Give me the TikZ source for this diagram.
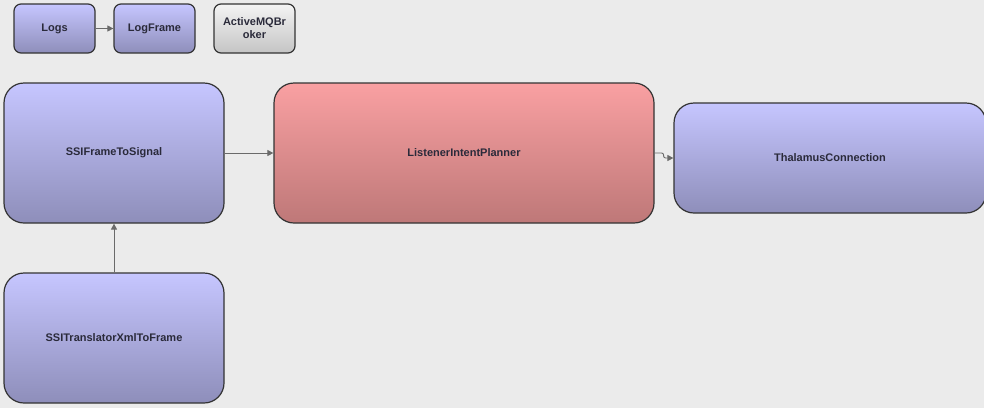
\documentclass[tikz,border=0pt]{standalone}
\usepackage{fontspec}
\setmainfont{Liberation Sans}
\usetikzlibrary{arrows.meta}
\definecolor{bg}{HTML}{EBEBEB}
\definecolor{bluetop}{HTML}{C6C6FF}
\definecolor{bluebot}{HTML}{8E8EBA}
\definecolor{redtop}{HTML}{F9A0A2}
\definecolor{redbot}{HTML}{BE7878}
\definecolor{greytop}{HTML}{F4F4F4}
\definecolor{greybot}{HTML}{C4C4C4}
\definecolor{edge}{HTML}{333333}
\definecolor{txt}{HTML}{2A2A3A}
\definecolor{conn}{HTML}{6A6A6A}
\tikzset{
  box/.style={draw=edge, line width=1.2pt, text=txt, font=\fontsize{11}{13}\selectfont\bfseries, align=center, inner sep=2pt},
  bluebox/.style={box, top color=bluetop, bottom color=bluebot},
  redbox/.style={box, top color=redtop, bottom color=redbot},
  greybox/.style={box, top color=greytop, bottom color=greybot},
  smallbox/.style={rounded corners=7pt, minimum width=81pt, minimum height=49pt, text width=74pt},
  bigbox/.style={rounded corners=20pt},
  conn/.style={draw=conn, line width=0.9pt, -{Triangle[length=6pt,width=6pt]}},
}
\begin{document}
\begin{tikzpicture}[x=1pt,y=-1pt]
\useasboundingbox[fill=bg] (0,0) rectangle (984,408);
\node[bluebox, smallbox] (logs) at (54.5,28.5) {Logs};
\node[bluebox, smallbox] (logframe) at (154.5,28.5) {LogFrame};
\node[greybox, smallbox] (amq) at (254.5,28.5) {ActiveMQBr\\oker};
\node[bluebox, bigbox, minimum width=220pt, minimum height=140pt] (sfs) at (114,153) {SSIFrameToSignal};
\node[redbox, bigbox, minimum width=380pt, minimum height=140pt] (lip) at (464,153) {ListenerIntentPlanner};
\node[bluebox, bigbox, minimum width=312pt, minimum height=110pt] (thal) at (830,158) {ThalamusConnection};
\node[bluebox, bigbox, minimum width=220pt, minimum height=130pt] (tr) at (114,338) {SSITranslatorXmlToFrame};
\draw[conn] (logs) -- (logframe);
\draw[conn] (sfs) -- (lip);
\draw[conn] (tr) -- (sfs);
\draw[conn, rounded corners=2pt] (lip.east) -- ++(9,0) |- (thal.west);
\end{tikzpicture}
\end{document}
